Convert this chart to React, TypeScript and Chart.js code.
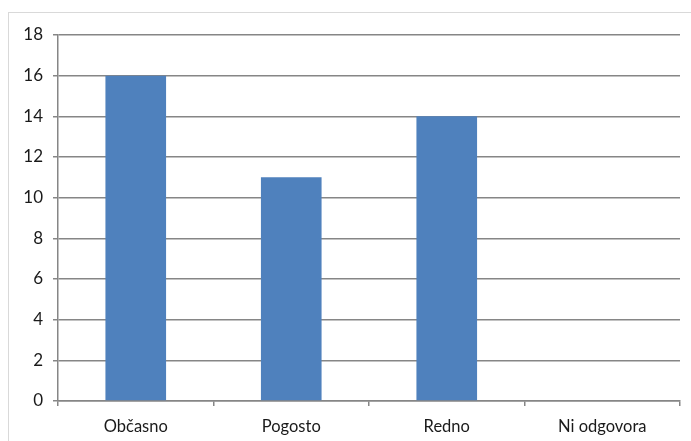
import React, { useEffect, useRef } from "react";
import { Chart, registerables } from "chart.js";

Chart.register(...registerables);

const categories = ["Občasno", "Pogosto", "Redno", "Ni odgovora"];
const values = [16, 11, 14, 0];
const yTicks = [0, 2, 4, 6, 8, 10, 12, 14, 16, 18];

export default function App() {
  const ref = useRef<HTMLCanvasElement>(null);
  useEffect(() => {
    if (!ref.current) return;
    const chart = new Chart(ref.current, {
      type: "bar",
      data: {
        labels: categories,
        datasets: [
          {
            data: values,
            backgroundColor: "#4f81bd",
            barPercentage: 0.39,
            categoryPercentage: 1,
          },
        ],
      },
      options: {
        animation: false,
        responsive: false,
        devicePixelRatio: 1,
        layout: { padding: { top: 22, right: 10, left: 0, bottom: 0 } },
        plugins: { legend: { display: false }, tooltip: { enabled: false } },
        scales: {
          x: {
            grid: {
              display: true,
              drawOnChartArea: false,
              drawTicks: true,
              tickLength: 5,
              color: "#868686",
              lineWidth: 1.5,
              offset: true,
            },
            border: { color: "#868686", width: 1.5 },
            ticks: {
              color: "#1a1a1a",
              padding: 11,
              font: { family: "Lato, 'Open Sans', sans-serif", size: 16.5 },
            },
            afterFit: (s: any) => {
              s.height = 42;
            },
          },
          y: {
            min: 0,
            max: 18,
            afterBuildTicks: (s: any) => {
              s.ticks = yTicks.map((v) => ({ value: v }));
            },
            grid: {
              color: "#868686",
              lineWidth: 1.5,
              tickLength: 5,
            },
            border: { color: "#868686", width: 1.5 },
            ticks: {
              color: "#1a1a1a",
              padding: 10,
              font: { family: "Lato, 'Open Sans', sans-serif", size: 17 },
            },
            afterFit: (s: any) => {
              s.width = 49;
            },
          },
        },
      },
    });
    return () => chart.destroy();
  }, []);
  return (
    <div
      style={{
        position: "absolute",
        left: 8,
        top: 12,
        width: 690,
        height: 440,
        border: "1px solid #d9d9d9",
        background: "#fff",
      }}
    >
      <canvas ref={ref} width={681} height={430} style={{ display: "block" }} />
    </div>
  );
}
